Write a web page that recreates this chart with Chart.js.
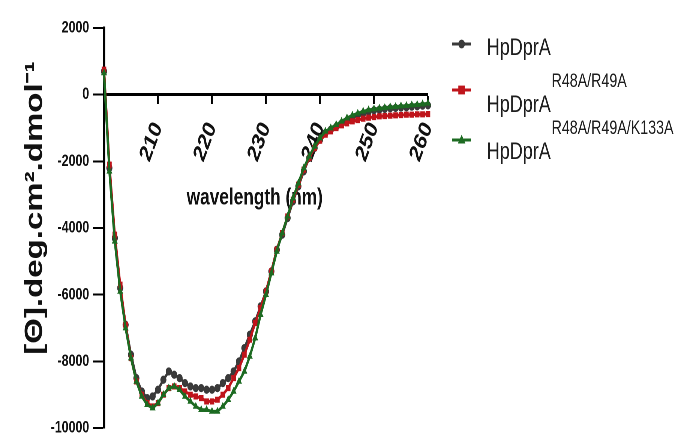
<!DOCTYPE html>
<html><head><meta charset="utf-8">
<script src="https://cdn.jsdelivr.net/npm/chart.js@4.4.1/dist/chart.umd.min.js"></script>
<style>
html,body{margin:0;padding:0;background:#fff;overflow:hidden;}
#wrap{width:679px;height:443px;overflow:hidden;position:relative;background:#fff;}
#inner{position:absolute;left:0;top:0;width:905.333px;height:443px;transform:scaleX(0.75);transform-origin:0 0;}
</style></head><body>
<div id="wrap"><div id="inner"><canvas id="c"></canvas></div></div>
<script>
const wavelengths = [200,201,202,203,204,205,206,207,208,209,
  210,211,212,213,214,215,216,217,218,219,
  220,221,222,223,224,225,226,227,228,229,
  230,231,232,233,234,235,236,237,238,239,
  240,241,242,243,244,245,246,247,248,249,
  250,251,252,253,254,255,256,257,258,259,260];

const seriesNames = ['HpDprA', 'HpDprA', 'HpDprA'];
const seriesSuperscripts = ['', 'R48A/R49A', 'R48A/R49A/K133A'];
const seriesColors = ['#3a3a3a', '#bf141b', '#1d6b22'];
const seriesMarkers = ['circle', 'rect', 'triangle'];

const hpDprA = [700,-2200,-4300,-5800,-6900,-7800,-8500,-8900,-9100,-9050,
  -8850,-8550,-8300,-8400,-8500,-8650,-8750,-8800,-8800,-8850,
  -8850,-8800,-8650,-8500,-8300,-8000,-7600,-7200,-6800,-6350,
  -5900,-5300,-4650,-4200,-3700,-3200,-2750,-2300,-1900,-1600,
  -1350,-1150,-1050,-960,-860,-770,-690,-620,-560,-510,
  -470,-450,-430,-410,-400,-390,-380,-360,-350,-330,-320];

const hpDprA_R48A_R49A = [750,-2100,-4200,-5700,-6900,-7900,-8600,-9000,-9250,-9350,
  -9250,-9000,-8800,-8750,-8800,-8900,-9000,-9050,-9100,-9200,
  -9200,-9150,-9000,-8800,-8500,-8200,-7800,-7350,-6850,-6400,
  -5900,-5300,-4650,-4150,-3650,-3150,-2700,-2250,-1900,-1600,
  -1380,-1200,-1100,-1000,-920,-860,-800,-760,-720,-690,
  -670,-650,-640,-630,-620,-610,-600,-600,-590,-590,-580];

const hpDprA_R48A_R49A_K133A = [650,-2300,-4400,-5900,-7000,-7900,-8600,-9050,-9300,-9400,
  -9250,-9000,-8800,-8750,-8850,-9050,-9200,-9350,-9450,-9450,
  -9500,-9500,-9350,-9150,-8900,-8600,-8300,-7850,-7300,-6600,
  -6000,-5350,-4700,-4150,-3650,-3100,-2650,-2200,-1850,-1550,
  -1300,-1100,-1000,-900,-800,-700,-620,-560,-500,-460,
  -430,-410,-390,-370,-360,-340,-330,-310,-300,-280,-260];

const xTickLabels = [210, 220, 230, 240, 250, 260];
const yTickLabels = [2000, 0, -2000, -4000, -6000, -8000, -10000];
const xTitle = 'wavelength (nm)';
const yTitle = '[\u0398].deg.cm\u00B2.dmol\u207B\u00B9';

const FONT = "'Liberation Sans', Arial, Helvetica, sans-serif";
const seriesValues = [hpDprA, hpDprA_R48A_R49A, hpDprA_R48A_R49A_K133A];

function markerPath(ctx, style, x, y, r) {
  ctx.beginPath();
  if (style === 'circle') {
    ctx.arc(x, y, r, 0, Math.PI * 2);
  } else if (style === 'rect') {
    ctx.rect(x - r, y - r, 2 * r, 2 * r);
  } else {
    ctx.moveTo(x, y - r * 1.2);
    ctx.lineTo(x + r * 1.15, y + r * 0.8);
    ctx.lineTo(x - r * 1.15, y + r * 0.8);
    ctx.closePath();
  }
}

const legendPlugin = {
  id: 'supLegend',
  afterDraw(chart) {
    const ctx = chart.ctx;
    const rows = [{m: 44, b: 55}, {m: 90, b: 112}, {m: 140, b: 159}];
    const lx0 = 603, lx1 = 628, tx = 649;
    ctx.save();
    seriesNames.forEach((name, i) => {
      const r = rows[i];
      ctx.strokeStyle = seriesColors[i];
      ctx.fillStyle = seriesColors[i];
      ctx.lineWidth = 3;
      ctx.beginPath(); ctx.moveTo(lx0, r.m); ctx.lineTo(lx1, r.m); ctx.stroke();
      markerPath(ctx, seriesMarkers[i], (lx0 + lx1) / 2, r.m, 4.4);
      ctx.fill();
      ctx.fillStyle = '#1e1e1e';
      ctx.textBaseline = 'alphabetic';
      ctx.textAlign = 'left';
      ctx.font = '24px ' + FONT;
      ctx.fillText(name, tx, r.b);
      const w = ctx.measureText(name).width;
      if (seriesSuperscripts[i]) {
        ctx.font = '19px ' + FONT;
        ctx.fillText(seriesSuperscripts[i], tx + w + 1, r.b - 25);
      }
    });
    ctx.restore();
  }
};

const datasets = seriesValues.map((vals, i) => ({
  label: seriesNames[i] + (seriesSuperscripts[i] ? ' ' + seriesSuperscripts[i] : ''),
  data: wavelengths.map((w, k) => ({x: w, y: vals[k]})),
  borderColor: seriesColors[i],
  backgroundColor: seriesColors[i],
  borderWidth: 3,
  pointStyle: seriesMarkers[i],
  pointRadius: 3.6,
  pointBorderWidth: 1,
  pointBackgroundColor: seriesColors[i],
  pointBorderColor: seriesColors[i],
  tension: 0,
  clip: 10,
  order: 2 - i
}));

new Chart(document.getElementById('c'), {
  type: 'line',
  data: { datasets },
  plugins: [legendPlugin],
  options: {
    responsive: true,
    maintainAspectRatio: false,
    animation: false,
    devicePixelRatio: 2,
    layout: { padding: { left: 0, top: 28, right: 334.67, bottom: 11 } },
    plugins: { legend: { display: false }, tooltip: { enabled: false } },
    scales: {
      x: {
        type: 'linear',
        position: { y: 0 },
        min: 200, max: 260,
        ticks: {
          stepSize: 10, autoSkip: false, minRotation: 64, maxRotation: 64, padding: 15,
          color: '#111', font: { family: FONT, size: 24, weight: 'bold' },
          callback: v => xTickLabels.includes(v) ? String(v) : ''
        },
        grid: { drawOnChartArea: false, drawTicks: true, tickLength: 8, color: '#000', tickWidth: 2.7 },
        border: { display: true, color: '#000', width: 3 },
        title: { display: true, text: xTitle, color: '#111',
          font: { family: FONT, size: 23, weight: 'bold' }, padding: { top: 0, bottom: 0 } },
        afterFit(scale) {
          if (!scale.__shifted) {
            const orig = scale.drawTitle;
            scale.drawTitle = function () { this.ctx.save(); this.ctx.translate(-15, 3); orig.call(this); this.ctx.restore(); };
            scale.__shifted = true;
          }
        }
      },
      y: {
        type: 'linear',
        min: -10000, max: 2000,
        ticks: {
          stepSize: 2000, padding: 5, color: '#111',
          font: { family: FONT, size: 16.5, weight: 'bold' },
          callback: v => yTickLabels.includes(v) ? String(v) : ''
        },
        grid: { drawOnChartArea: false, drawTicks: true, tickLength: 14.7, color: '#000', tickWidth: 2 },
        border: { display: true, color: '#000', width: 2.7 },
        title: { display: true, text: yTitle, color: '#111',
          font: { family: FONT, size: 33, weight: 'bold' }, padding: { top: 27, bottom: 0 } },
        afterFit(scale) {
          scale.width = 138.67;
          if (!scale.__shifted) {
            const orig = scale.drawTitle;
            scale.drawTitle = function () { this.ctx.save(); this.ctx.translate(0, -20); orig.call(this); this.ctx.restore(); };
            scale.__shifted = true;
          }
        }
      }
    }
  }
});
</script>
</body></html>
